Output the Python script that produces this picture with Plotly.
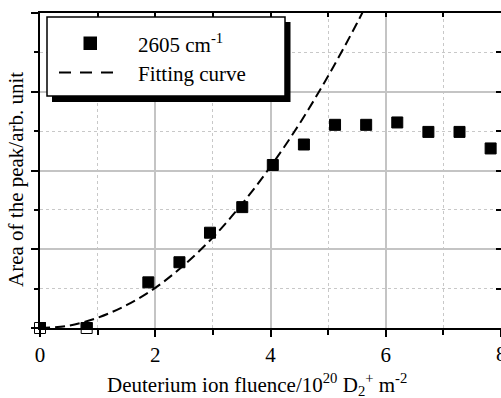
import plotly.graph_objects as go

# ---- data ----
fluence = [0, 0.81, 1.88, 2.42, 2.95, 3.51, 4.04, 4.58, 5.12, 5.66, 6.20, 6.74, 7.28, 7.82]
area = [0, 0, 0.58, 0.835, 1.21, 1.535, 2.07, 2.33, 2.58, 2.58, 2.61, 2.49, 2.49, 2.28]
open_x = [0, 0.81]
open_y = [0, 0]
fit_x = [0, 0.5, 1, 1.5, 2, 2.5, 3, 3.5, 4, 4.5, 5, 5.5, 6]
fit_y = [0, 0.03, 0.13, 0.29, 0.51, 0.80, 1.15, 1.57, 2.05, 2.59, 3.20, 3.87, 4.60]
x_ticks = [0, 2, 4, 6, 8]
x_labels = ["0", "2", "4", "6", "8"]
legend_labels = ["2605 cm<sup>-1</sup>", "Fitting curve"]

W, H = 501, 398
L, R, T, B = 40, 0, 13, 70
FONT = "'Liberation Serif', Tinos, 'Times New Roman', Times, 'DejaVu Serif', 'Noto Serif', serif"
FS = 21

pw = W - L - R
ph = H - T - B


def px(x):
    return (x - L) / pw


def py(y):
    return (H - B - y) / ph


fig = go.Figure()

# hollow markers under the clipped ones
fig.add_trace(go.Scatter(
    x=open_x, y=open_y, mode="markers", cliponaxis=False,
    marker=dict(symbol="square", size=11, color="white",
                line=dict(color="black", width=1)),
    showlegend=False, hoverinfo="skip"))

fig.add_trace(go.Scatter(
    x=fit_x, y=fit_y, mode="lines", line_shape="spline",
    line=dict(color="black", width=2, dash="10px,5px"),
    showlegend=False))

fig.add_trace(go.Scatter(
    x=fluence, y=area, mode="markers", cliponaxis=True,
    marker=dict(symbol="square", size=11, color="black",
                line=dict(color="black", width=1)),
    showlegend=False))

# invisible trace for the mirrored top/right axes
fig.add_trace(go.Scatter(x=[0, 8], y=[0, 4], xaxis="x2", yaxis="y2",
                         mode="markers", marker=dict(opacity=0),
                         showlegend=False, hoverinfo="skip"))

fig.update_layout(
    width=W, height=H,
    margin=dict(l=L, r=R, t=T, b=B),
    paper_bgcolor="white", plot_bgcolor="white",
    font=dict(family=FONT, size=FS, color="black"),
    xaxis=dict(range=[0, 8], tickvals=x_ticks, ticktext=x_labels,
               ticks="outside", ticklen=7, tickwidth=2, tickcolor="black",
               showline=True, linecolor="black", linewidth=2,
               showgrid=True, gridcolor="#c4c4c4", gridwidth=1.5,
               zeroline=False,
               minor=dict(dtick=1, tick0=0, ticks="outside", ticklen=5, tickwidth=2,
                          tickcolor="black", showgrid=True, gridcolor="#c8c8c8",
                          griddash="dot", gridwidth=1),
               tickfont=dict(family=FONT, size=FS)),
    yaxis=dict(range=[0, 4], dtick=1, tick0=0, showticklabels=False,
               ticks="outside", ticklen=7, tickwidth=2, tickcolor="black",
               showline=True, linecolor="black", linewidth=2,
               showgrid=True, gridcolor="#c4c4c4", gridwidth=1.5,
               zeroline=False,
               minor=dict(dtick=0.5, tick0=0, ticks="outside", ticklen=4, tickwidth=2,
                          tickcolor="black", showgrid=True, gridcolor="#c8c8c8",
                          griddash="dot", gridwidth=1)),
    xaxis2=dict(range=[0, 8], overlaying="x", side="top", dtick=1, tick0=0,
                showticklabels=False, ticks="inside", ticklen=4, tickwidth=2,
                tickcolor="black", showline=True, linecolor="black", linewidth=2,
                showgrid=False, zeroline=False),
    yaxis2=dict(range=[0, 4], overlaying="y", side="right", dtick=0.5, tick0=0,
                showticklabels=False, ticks="inside", ticklen=5, tickwidth=2,
                tickcolor="black", showline=True, linecolor="black", linewidth=2,
                showgrid=False, zeroline=False),
    showlegend=False,
)

# ---- legend drawn by hand (shadow, box, symbols) ----
shapes = [
    dict(type="rect", xref="paper", yref="paper", layer="above",
         x0=px(52), x1=px(290.5), y0=py(102), y1=py(22),
         fillcolor="black", line=dict(width=0)),
    dict(type="rect", xref="paper", yref="paper", layer="above",
         x0=px(47), x1=px(285), y0=py(96), y1=py(17),
         fillcolor="white", line=dict(color="black", width=1.5)),
    dict(type="rect", xref="paper", yref="paper", layer="above",
         x0=px(83.5), x1=px(97), y0=py(50), y1=py(36.5),
         fillcolor="black", line=dict(width=0)),
    dict(type="line", xref="paper", yref="paper", layer="above",
         x0=px(59), x1=px(121), y0=py(72.5), y1=py(72.5),
         line=dict(color="black", width=2, dash="12px,9px")),
]
fig.update_layout(shapes=shapes)

annotations = [
    dict(text=legend_labels[0], xref="paper", yref="paper",
         x=px(136), y=py(43), xanchor="left", yanchor="middle",
         showarrow=False, font=dict(family=FONT, size=FS)),
    dict(text=legend_labels[1], xref="paper", yref="paper",
         x=px(136), y=py(74), xanchor="left", yanchor="middle",
         showarrow=False, font=dict(family=FONT, size=FS)),
    dict(text="Deuterium ion fluence/10<sup>20</sup> D<sub>2</sub><sup>+</sup> m<sup>-2</sup>",
         xref="paper", yref="paper", x=px(257), y=py(384),
         xanchor="center", yanchor="middle", showarrow=False,
         font=dict(family=FONT, size=FS)),
    dict(text="Area of the peak/arb. unit", xref="paper", yref="paper",
         x=px(16), y=py(180), xanchor="center", yanchor="middle",
         textangle=-90, showarrow=False, font=dict(family=FONT, size=FS)),
    # last tick label, partly off the page as in the original
    dict(text=x_labels[-1], xref="x", yref="paper",
         x=x_ticks[-1], y=py(354), xanchor="center", yanchor="middle",
         showarrow=False, font=dict(family=FONT, size=FS)),
]
fig.update_layout(annotations=annotations)

fig.write_html(
    "out.html",
    config={"displayModeBar": False},
    post_script="document.body.style.margin='0';document.body.style.overflow='hidden';",
)
